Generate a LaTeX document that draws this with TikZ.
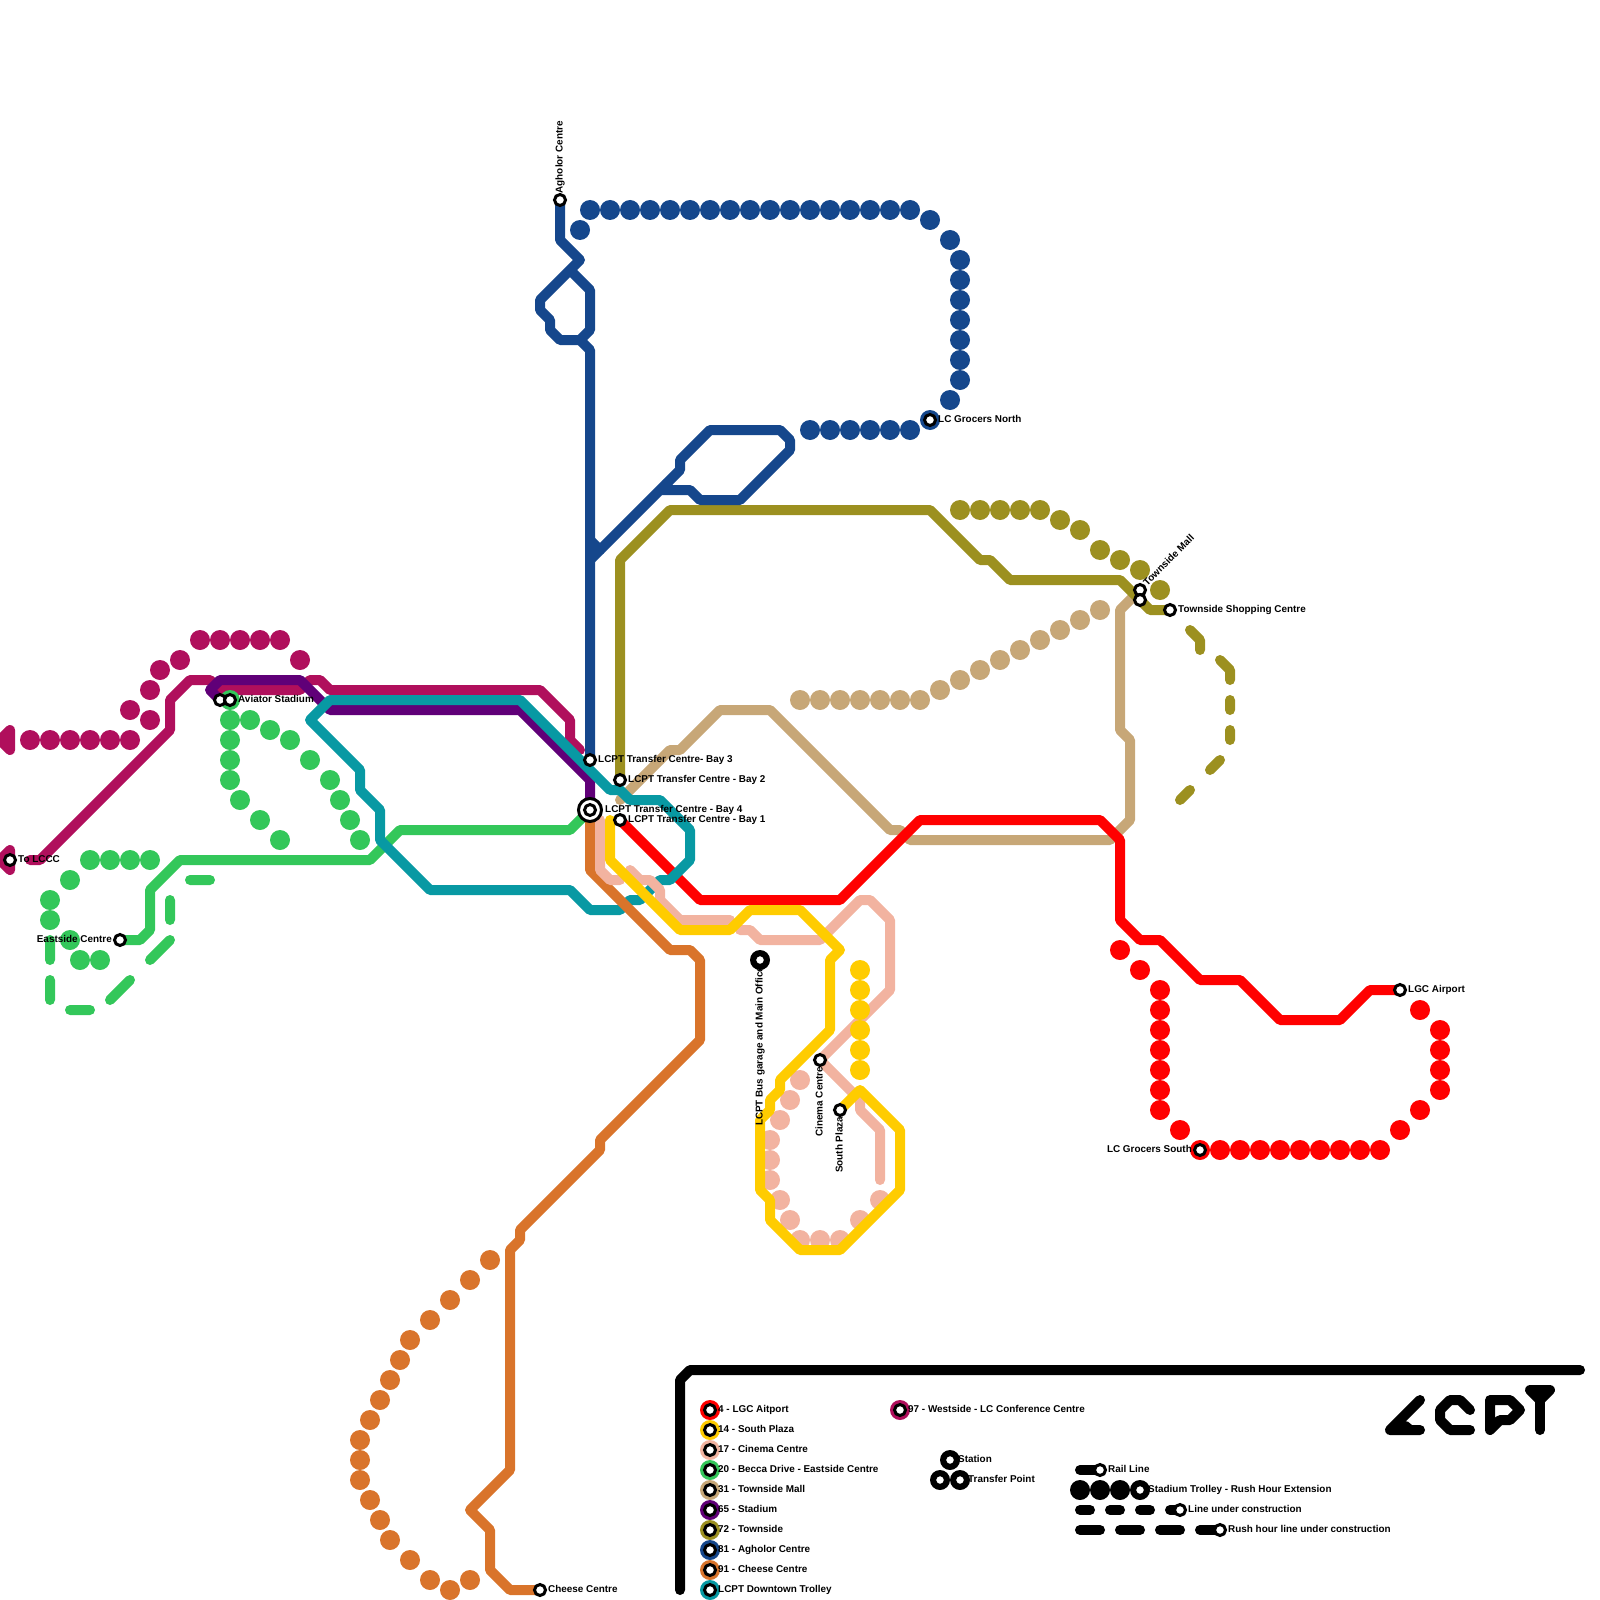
\documentclass[tikz,border=0pt]{standalone}
\usepackage{fontspec}
\setmainfont{Liberation Sans}
\usetikzlibrary{positioning}
\tikzset{
	rail/.style={line width=1mm, line cap=round, line join=round},
	stn/.style={circle, draw=black, fill=white, line width=0.3mm, minimum size=1.1mm, inner sep=0pt},
	lbl/.style={font=\fontsize{2.82}{3.4}\selectfont\bfseries, inner sep=0pt, text height=0.72mm, text depth=0.2mm},
}
\begin{document}
\begin{tikzpicture}[x=1mm, y=-1mm]
	\definecolor{mapred}{RGB}{255, 0, 0}
	\definecolor{mapyellow}{RGB}{255, 204, 0}
	\definecolor{mappink}{RGB}{242, 179, 160}
	\definecolor{mapgreen}{RGB}{51, 199, 90}
	\definecolor{maptan}{RGB}{199, 167, 119}
	\definecolor{mappurple}{RGB}{96, 0, 120}
	\definecolor{mapolive}{RGB}{156, 144, 32}
	\definecolor{mapblue}{RGB}{21, 71, 140}
	\definecolor{maporange}{RGB}{217, 116, 43}
	\definecolor{mapteal}{RGB}{8, 153, 163}
	\definecolor{mapmagenta}{RGB}{176, 15, 92}
	\useasboundingbox (0,0) rectangle (160,160);

	% stop positions
	\coordinate (bayonept) at (62,82);
	\coordinate (baytwopt) at (62,78);
	\coordinate (baythreept) at (59,76);
	\coordinate (bayfourpt) at (59,81);
	\coordinate (airportpt) at (140,99);
	\coordinate (plazapt) at (84,111);
	\coordinate (cinemapt) at (82,106);
	\coordinate (eastsidept) at (12,94);
	\coordinate (mallpt) at (114,59);
	\coordinate (shoppingpt) at (117,61);
	\coordinate (agholorpt) at (56,20);
	\coordinate (cheesept) at (54,159);
	\coordinate (lcccpt) at (1,86);
	\coordinate (aviatorpt) at (22,70);

	% 31 Townside Mall
	\draw[rail, maptan] (62,80) -- (67,75) -- (68,75) -- (72,71) -- (77,71) -- (89,83) -- (90,83) -- (91,84) -- (111,84) -- (113,82) -- (113,74) -- (112,73) -- (112,61) -- (mallpt);
	\foreach \x/\y in {80/70,82/70,84/70,86/70,88/70,90/70,92/70,94/69,96/68,98/67,100/66,102/65,104/64,106/63,108/62,110/61}
		\fill[maptan] (\x,\y) circle (1);

	% 72 Townside
	\draw[rail, mapolive] (baytwopt) -- (62,56) -- (67,51) -- (93,51) -- (98,56) -- (99,56) -- (101,58) -- (112,58) -- (115,61) -- (shoppingpt);
	\foreach \x/\y in {96/51,98/51,100/51,102/51,104/51,106/52,108/53,110/55,112/56,114/57,116/59}
		\fill[mapolive] (\x,\y) circle (1);
	\draw[rail, mapolive] (119,63) -- (120,64) -- (120,65) (122,66) -- (123,67) -- (123,68) (123,70) -- (123,71) (123,73) -- (123,74) (122,76) -- (121,77) (119,79) -- (118,80);

	% 81 Agholor Centre
	\draw[rail, mapblue] (agholorpt) -- (56,24) -- (58,26) -- (54,30) -- (54,31) -- (55,32) -- (55,33) -- (56,34) -- (58,34) -- (59,33) -- (59,29) -- (57,27);
	\draw[rail, mapblue] (58,34) -- (59,35) -- (baythreept);
	\draw[rail, mapblue] (59,54) -- (60,55);
	\draw[rail, mapblue] (59,56) -- (68,47) -- (68,46) -- (71,43) -- (78,43) -- (79,44) -- (79,45) -- (74,50) -- (70,50) -- (69,49) -- (66,49);
	\draw[rail, mapblue] (66.6,48.4) -- (67,49);
	\foreach \x in {59,61,...,91}
		\fill[mapblue] (\x,21) circle (1);
	\foreach \x/\y in {58/23,93/22,95/24,96/26,96/28,96/30,96/32,96/34,96/36,96/38,95/40,93/42,91/43,89/43,87/43,85/43,83/43,81/43}
		\fill[mapblue] (\x,\y) circle (1);

	% 97 Westside
	\draw[rail, mapmagenta] (3,86) -- (4,86) -- (17,73) -- (17,70) -- (19,68) -- (21,68) -- (22,69) -- (30,69) -- (31,68) -- (32,68) -- (33,69) -- (54,69) -- (57,72) -- (57,74) -- (58,75);
	\draw[rail, mapmagenta] (1,85) -- (0,86) -- (1,87) -- cycle;
	\draw[rail, mapmagenta] (1,73) -- (0,74) -- (1,75) -- cycle;
	\foreach \x/\y in {3/74,5/74,7/74,9/74,11/74,13/74,13/71,15/72,15/69,16/67,18/66,20/64,22/64,24/64,26/64,28/64,30/66}
		\fill[mapmagenta] (\x,\y) circle (1);

	% 65 Stadium
	\draw[rail, mappurple] (aviatorpt) -- (21,69) -- (22,68) -- (30,68) -- (33,71) -- (52,71) -- (59,78) -- (bayfourpt);

	% 20 Becca Drive
	\draw[rail, mapgreen] (bayfourpt) -- (57,83) -- (40,83) -- (37,86) -- (18,86) -- (15,89) -- (15,93) -- (14,94) -- (eastsidept);
	\foreach \x/\y in {23/70,23/72,23/74,23/76,23/78,24/80,26/82,28/84,25/72,27/73,29/74,31/76,33/78,34/80,35/82,36/84,15/86,13/86,11/86,9/86,7/88,5/90,5/92,7/94,8/96,10/96}
		\fill[mapgreen] (\x,\y) circle (1);
	\draw[rail, mapgreen] (19,88) -- (21,88) (17,90) -- (17,92) (17,94) -- (15,96) (13,98) -- (11,100) (9,101) -- (7,101) (5,98) -- (5,100) (5,94) -- (5,96);

	% 4 LGC Airport
	\draw[rail, mapred] (bayonept) -- (70,90) -- (84,90) -- (92,82) -- (110,82) -- (112,84) -- (112,92) -- (114,94) -- (116,94) -- (120,98) -- (124,98) -- (128,102) -- (134,102) -- (137,99) -- (airportpt);
	\foreach \x/\y in {112/95,114/97,116/99,116/101,116/103,116/105,116/107,116/109,116/111,118/113,140/113,142/111,144/109,144/107,144/105,144/103,142/101}
		\fill[mapred] (\x,\y) circle (1);
	\foreach \x in {120,122,...,138}
		\fill[mapred] (\x,115) circle (1);

	% trolley
	\draw[rail, mapteal] (66,88) -- (67,88) -- (69,86) -- (69,83) -- (66,80) -- (63,80) -- (62,79) -- (61,79) -- (52,70) -- (33,70) -- (31,72) -- (36,77) -- (36,79) -- (38,81) -- (38,84) -- (43,89) -- (57,89) -- (59,91) -- (62,91) -- (63,90) -- (64,90) -- (66,88);

	% 91 Cheese Centre
	\draw[rail, maporange] (bayfourpt) -- (59,87) -- (67,95) -- (69,95) -- (70,96) -- (70,104) -- (60,114) -- (60,115) -- (52,123) -- (52,124) -- (51,125) -- (51,147) -- (47,151) -- (49,153) -- (49,157) -- (51,159) -- (cheesept);
	\foreach \x/\y in {49/126,47/128,45/130,43/132,41/134,40/136,39/138,38/140,37/142,36/144,36/146,36/148,37/150,38/152,39/154,41/156,43/158,45/159,47/158}
		\fill[maporange] (\x,\y) circle (1);

	% 17 Cinema Centre
	\draw[rail, mappink] (60,82) -- (60,87) -- (61,88) -- (62,88);
	\draw[rail, mappink] (63,87) -- (64,88) -- (65,88) -- (66,89) -- (66,90) -- (68,92) -- (73,92);
	\draw[rail, mappink] (74,93) -- (75,93) -- (76,94) -- (82,94) -- (86,90) -- (87,90) -- (89,92) -- (89,99) -- (cinemapt) -- (86,110) -- (86,111) -- (88,113) -- (88,118);
	\foreach \x/\y in {80/108,79/110,78/112,77/114,77/116,77/118,78/120,79/122,80/124,82/124,84/124,86/122,88/120}
		\fill[mappink] (\x,\y) circle (1);

	% 14 South Plaza
	\draw[rail, mapyellow] (61,82) -- (61,86) -- (68,93) -- (73,93) -- (75,91) -- (80,91) -- (84,95) -- (83,96) -- (83,103) -- (78,108) -- (78,109) -- (77,110) -- (77,111) -- (76,112) -- (76,119) -- (77,120) -- (77,122) -- (80,125) -- (84,125) -- (90,119) -- (90,113) -- (86,109) -- (plazapt);
	\foreach \y in {97,99,...,107}
		\fill[mapyellow] (86,\y) circle (1);

	% stops
	\node[stn] (bayone) at (bayonept) {};
	\node[stn] (baytwo) at (baytwopt) {};
	\node[stn] (baythree) at (baythreept) {};
	\node[circle, draw=black, fill=white, line width=0.3mm, minimum size=2.3mm, inner sep=0pt] (bayring) at (bayfourpt) {};
	\node[stn] (bayfour) at (bayfourpt) {};
	\node[stn] (airport) at (airportpt) {};
	\node[stn] (grocerssouth) at (120,115) {};
	\node[stn] (grocersnorth) at (93,42) {};
	\node[stn] (plaza) at (plazapt) {};
	\node[stn] (cinema) at (cinemapt) {};
	\node[stn] (eastside) at (eastsidept) {};
	\node[stn] (mall) at (mallpt) {};
	\node[stn] (mallsouth) at (114,60) {};
	\node[stn] (shopping) at (shoppingpt) {};
	\node[stn] (agholor) at (agholorpt) {};
	\node[stn] (cheese) at (cheesept) {};
	\node[stn] (lccc) at (lcccpt) {};
	\node[stn] (aviatorwest) at (aviatorpt) {};
	\node[stn] (aviator) at (23,70) {};
	\fill[black] (76,96) circle (1);
	\node[stn] (garage) at (76,96) {};

	\node[lbl, right=0.05mm of bayone] {LCPT Transfer Centre - Bay 1};
	\node[lbl, right=0.05mm of baytwo] {LCPT Transfer Centre - Bay 2};
	\node[lbl, right=0.05mm of baythree] {LCPT Transfer Centre- Bay 3};
	\node[lbl, right=0.15mm of bayring] {LCPT Transfer Centre - Bay 4};
	\node[lbl, right=0.05mm of airport] {LGC Airport};
	\node[lbl, left=0.05mm of grocerssouth] {LC Grocers South};
	\node[lbl, right=0.05mm of grocersnorth] {LC Grocers North};
	\node[lbl, left=0.05mm of eastside] {Eastside Centre};
	\node[lbl, right=0.05mm of shopping] {Townside Shopping Centre};
	\node[lbl, right=0.05mm of cheese] {Cheese Centre};
	\node[lbl, right=0.05mm of lccc] {To LCCC};
	\node[lbl, right=0.05mm of aviator] {Aviator Stadium};
	\node[lbl, rotate=90, anchor=west] at ([yshift=-0.1mm]agholor.north) {Agholor Centre};
	\node[lbl, rotate=90, anchor=east] at ([yshift=0.1mm]garage.south) {LCPT Bus garage and Main Office};
	\node[lbl, rotate=90, anchor=east] at ([yshift=0.1mm]cinema.south) {Cinema Centre};
	\node[lbl, rotate=90, anchor=east] at ([yshift=0.1mm]plaza.south) {South Plaza};
	\node[lbl, rotate=45, anchor=west] at (114.5,58.5) {Townside Mall};

	% legend frame
	\draw[rail, black] (68,159) -- (68,138) -- (69,137) -- (158,137);
	\foreach \y/\c/\t in {141/mapred/4 - LGC Aitport,143/mapyellow/14 - South Plaza,145/mappink/17 - Cinema Centre,147/mapgreen/20 - Becca Drive - Eastside Centre,149/maptan/31 - Townside Mall,151/mappurple/65 - Stadium,153/mapolive/72 - Townside,155/mapblue/81 - Agholor Centre,157/maporange/91 - Cheese Centre,159/mapteal/LCPT Downtown Trolley} {
		\fill[\c] (71,\y) circle (1);
		\node[stn] (key\y) at (71,\y) {};
		\node[lbl, right=0.05mm of key\y] {\t};
	}
	\fill[mapmagenta] (90,141) circle (1);
	\node[stn] (keywest) at (90,141) {};
	\node[lbl, right=0.05mm of keywest] {97 - Westside - LC Conference Centre};

	% legend symbols
	\foreach \x/\y in {95/146,94/148,96/148,108/149,110/149,112/149,114/149}
		\fill[black] (\x,\y) circle (1);
	\node[stn] (keystation) at (95,146) {};
	\node[stn] at (94,148) {};
	\node[stn] (keytransfer) at (96,148) {};
	\node[lbl, right=0.05mm of keystation] {Station};
	\node[lbl, right=0.05mm of keytransfer] {Transfer Point};
	\draw[rail, black] (108,147) -- (110,147);
	\node[stn] (keyrail) at (110,147) {};
	\node[lbl, right=0.05mm of keyrail] {Rail Line};
	\node[stn] (keyrush) at (114,149) {};
	\node[lbl, right=0.05mm of keyrush] {Stadium Trolley - Rush Hour Extension};
	\draw[rail, black] (108,151) -- (109,151) (111,151) -- (112,151) (114,151) -- (115,151) (117,151) -- (118,151);
	\node[stn] (keybuild) at (118,151) {};
	\node[lbl, right=0.05mm of keybuild] {Line under construction};
	\draw[rail, black] (108,153) -- (110,153) (112,153) -- (114,153) (116,153) -- (118,153) (120,153) -- (122,153);
	\node[stn] (keyrushbuild) at (122,153) {};
	\node[lbl, right=0.05mm of keyrushbuild] {Rush hour line under construction};

	% logo
	\draw[rail, black] (142,140) -- (139,143) -- (142,143);
	\fill[black] (139.9,142) -- (140.8,142.17) -- (141.2,142.5) -- (140,142.6) -- cycle;
	\draw[rail, black] (147,141) -- (146,140) -- (145,140) -- (144,141) -- (144,142) -- (145,143) -- (147,143);
	\draw[rail, black] (149,143) -- (149,140) -- (151,140) -- (152,141) -- (151,142) -- (150,142) -- cycle;
	\draw[rail, black, fill=black] (153,139) -- (155,139) -- (154,140) -- cycle;
	\draw[rail, black] (154,140) -- (154,143);
\end{tikzpicture}
\end{document}
